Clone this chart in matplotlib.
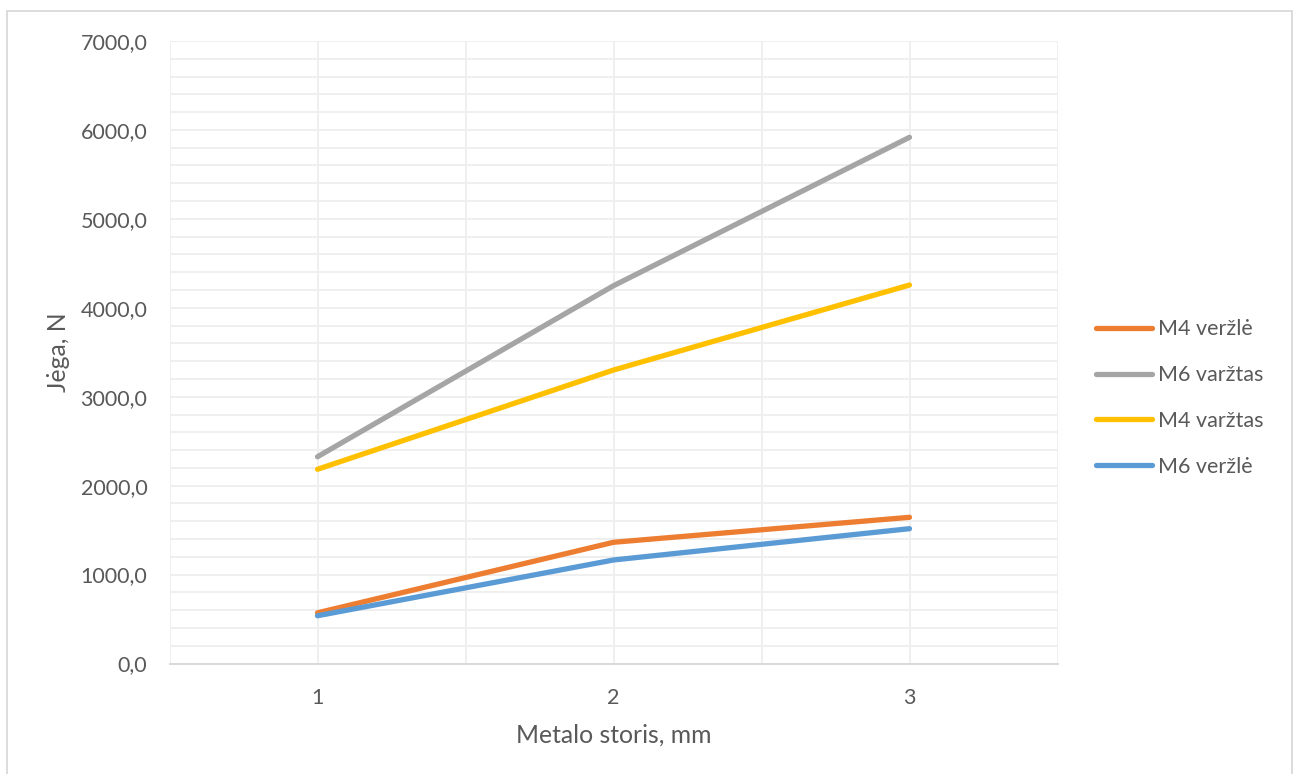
import matplotlib
matplotlib.use("Agg")
import matplotlib.pyplot as plt
from matplotlib.patches import Rectangle
from matplotlib.ticker import MultipleLocator, FuncFormatter

# Metal thickness (mm) and measured force (N) per fastener type
thickness = [1, 2, 3]
series_names = ["M4 veržlė", "M6 varžtas", "M4 varžtas", "M6 veržlė"]
m4_verzle = [570, 1363, 1644]
m6_varztas = [2325, 4248, 5917]
m4_varztas = [2184, 3300, 4256]
m6_verzle = [537, 1164, 1516]
series_values = [m4_verzle, m6_varztas, m4_varztas, m6_verzle]
series_colors = ["#ED7D31", "#A5A5A5", "#FFC000", "#5B9BD5"]

x_label = "Metalo storis, mm"
y_label = "Jėga, N"

plt.rcParams["font.family"] = ["Lato", "DejaVu Sans"]
text_color = "#595959"
fs = 15.5
fs_title = 17.8

W, H = 1299, 774
fig = plt.figure(figsize=(W / 100, H / 100), dpi=100)
ax = fig.add_axes([169.5 / W, 1 - 663.5 / H, 888 / W, 622.5 / H])

for name, vals, col in zip(series_names, series_values, series_colors):
    ax.plot(thickness, vals, color=col, lw=3.8, label=name,
            solid_capstyle="round", solid_joinstyle="round", zorder=3)

ax.set_xlim(0.5, 3.5)
ax.set_ylim(0, 7000)
ax.set_xticks(thickness)
ax.xaxis.set_minor_locator(MultipleLocator(0.5))
ax.yaxis.set_major_locator(MultipleLocator(1000))
ax.yaxis.set_minor_locator(MultipleLocator(200))
ax.yaxis.set_major_formatter(FuncFormatter(lambda v, p: f"{v:.1f}".replace(".", ",")))

ax.grid(which="both", color="#EFEFEF", lw=1.4, zorder=0)
ax.set_axisbelow(True)
ax.tick_params(which="both", length=0)
ax.tick_params(axis="y", pad=16, labelsize=fs, labelcolor=text_color)
ax.tick_params(axis="x", pad=18, labelsize=fs, labelcolor=text_color)

for side in ["top", "right", "left"]:
    ax.spines[side].set_visible(False)
ax.spines["bottom"].set_color("#D9D9D9")
ax.spines["bottom"].set_linewidth(1.4)

ax.set_xlabel(x_label, fontsize=fs_title, color=text_color, va="center")
ax.set_ylabel(y_label, fontsize=fs_title, color=text_color, va="center")
ax.xaxis.set_label_coords(0.5, (663.5 - 735) / 622.5)
ax.yaxis.set_label_coords((58 - 169.5) / 888, 0.5)

leg = ax.legend(loc="center left", bbox_to_anchor=(1096 / W, 1 - 398 / H),
                bbox_transform=fig.transFigure, frameon=False, fontsize=fs,
                handlelength=2.6, handletextpad=0.28, labelspacing=1.2,
                borderaxespad=0, borderpad=0)
for t in leg.get_texts():
    t.set_color(text_color)
for h in leg.get_lines():
    h.set_solid_capstyle("round")

# Outer chart border
fig.patches.append(Rectangle((7 / W, -0.05), 1285 / W, 1.05 - 11 / H,
                             transform=fig.transFigure, fill=False,
                             edgecolor="#D9D9D9", lw=1.3))

fig.savefig("out.png", dpi=100)
